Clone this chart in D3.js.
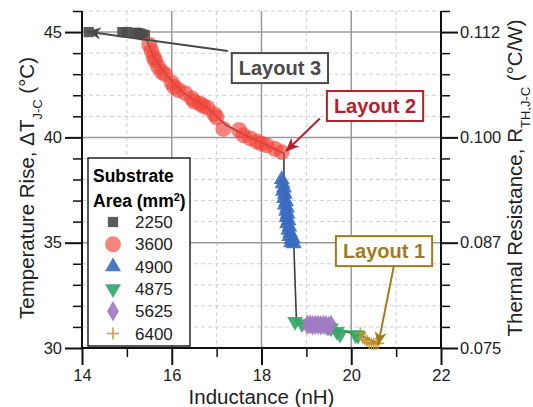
<!DOCTYPE html>
<html>
<head>
<meta charset="utf-8">
<script src="https://cdn.jsdelivr.net/npm/d3@7"></script>
<style>
  body { margin: 0; background: #fff; }
  svg { font-family: "Liberation Sans", Arial, sans-serif; }
</style>
</head>
<body>
<svg id="chart" width="533" height="407"></svg>
<script>
// substrate area 2250 mm2 (squares)
var sq2250X = [14.15, 14.9, 15.0, 15.2, 15.25, 15.3, 15.35, 15.4];
var sq2250Y = [45.0, 45.0, 45.0, 44.97, 44.95, 44.92, 44.88, 44.85];

// 3600 mm2 (circles)
var ci3600X = [15.5, 15.55, 15.6, 15.63, 15.7, 15.78, 15.85, 16.0, 16.05, 16.15, 16.3, 16.45, 16.5, 16.63,
  16.7, 16.8, 16.95, 17.0, 17.15, 17.5, 17.6, 17.75, 17.9, 18.0, 18.12, 18.3, 18.45];
var ci3600Y = [44.4, 44.1, 43.8, 43.65, 43.35, 43.1, 43.0, 42.6, 42.4, 42.25, 42.1, 41.85, 41.7, 41.6,
  41.5, 41.4, 41.1, 40.95, 40.4, 40.35, 40.1, 39.95, 39.8, 39.7, 39.62, 39.45, 39.3];

// 4900 mm2 (up triangles)
var tr4900X = [18.45, 18.47, 18.5, 18.48, 18.52, 18.5, 18.55, 18.52, 18.57, 18.55, 18.58, 18.56, 18.6,
  18.57, 18.62, 18.6, 18.64, 18.62, 18.67, 18.66, 18.72, 18.7];
var tr4900Y = [38.0, 37.8, 37.6, 37.45, 37.3, 37.1, 36.95, 36.8, 36.65, 36.5, 36.35, 36.2, 36.05,
  35.9, 35.75, 35.6, 35.45, 35.3, 35.15, 35.0, 34.95, 35.2];

// 4875 mm2 (down triangles)
var td4875X = [18.75, 18.9, 19.48, 19.55, 19.68, 19.75, 20.1, 20.15];
var td4875Y = [31.25, 31.15, 31.0, 30.95, 30.78, 30.65, 30.62, 30.6];

// 5625 mm2 (diamonds)
var di5625X = [19.02, 19.08, 19.14, 19.2, 19.26, 19.32, 19.38, 19.44, 19.5, 19.55];
var di5625Y = [31.1, 31.12, 31.08, 31.1, 31.1, 31.08, 31.1, 31.08, 31.05, 31.1];

// 6400 mm2 (plus)
var pl6400X = [20.2, 20.25, 20.3, 20.35, 20.4, 20.45, 20.5, 20.55, 20.6];
var pl6400Y = [30.7, 30.5, 30.4, 30.35, 30.25, 30.2, 30.2, 30.2, 30.22];

// trend line through the data
var traceX = [15.4, 15.6, 15.9, 16.3, 16.8, 17.2, 17.6, 18.1, 18.5, 18.5, 18.72, 18.78, 19.5, 20.2, 20.6];
var traceY = [44.85, 43.8, 42.9, 42.05, 41.4, 40.6, 40.15, 39.65, 39.25, 38.0, 34.9, 31.2, 31.0, 30.6, 30.2];

var xTicks = [14, 16, 18, 20, 22];
var xMinor = [15, 17, 19, 21];
var yTicks = [30, 35, 40, 45];
var yMinor = [31, 32, 33, 34, 36, 37, 38, 39, 41, 42, 43, 44, 46];
var rTickLabels = ["0.075", "0.087", "0.100", "0.112"];

var legendNames = ["2250", "3600", "4900", "4875", "5625", "6400"];
var colors = ["#4d4d4d", "#ef4237", "#3b6cbf", "#34a868", "#9f7bc1", "#c3922c"];

// annotation boxes: label, text centre (data units), arrow start (data units), arrow tip
var layoutNames = ["Layout 3", "Layout 2", "Layout 1"];
var layoutColors = ["#4a4a4a", "#b5202e", "#a37a1c"];
var layoutTextX = [18.41, 20.53, 20.73];
var layoutTextY = [43.29, 41.49, 34.6];
var layoutFromX = [17.25, 19.3, 20.95];
var layoutFromY = [44.1, 40.9, 33.9];
var layoutTipX = [14.13, 18.55, 20.6];
var layoutTipY = [45.02, 39.35, 30.15];

var svg = d3.select("#chart");
var mLeft = 82, mRight = 441, mTop = 11, mBottom = 348;

var x = d3.scaleLinear().domain([14, 22]).range([mLeft, mRight]);
var y = d3.scaleLinear().domain([30, 46]).range([mBottom, mTop]);
var r = d3.scaleLinear().domain([30 / 400, 46 / 400]).range([mBottom, mTop]);

//grid
var grid = svg.append("g");
grid.selectAll(".gx").data(xMinor).enter().append("line")
  .attr("x1", function(d) { return x(d); }).attr("x2", function(d) { return x(d); })
  .attr("y1", mTop).attr("y2", mBottom)
  .style("stroke", "#cfcfcf").style("stroke-dasharray", "4,3");
grid.selectAll(".gy").data(yMinor).enter().append("line")
  .attr("y1", function(d) { return y(d); }).attr("y2", function(d) { return y(d); })
  .attr("x1", mLeft).attr("x2", mRight)
  .style("stroke", "#cfcfcf").style("stroke-dasharray", "4,3");
grid.selectAll(".gX").data([16, 18, 20]).enter().append("line")
  .attr("x1", function(d) { return x(d); }).attr("x2", function(d) { return x(d); })
  .attr("y1", mTop).attr("y2", mBottom)
  .style("stroke", "#9a9a9a").style("stroke-width", 1.5);
grid.selectAll(".gY").data([35, 40, 45]).enter().append("line")
  .attr("y1", function(d) { return y(d); }).attr("y2", function(d) { return y(d); })
  .attr("x1", mLeft).attr("x2", mRight)
  .style("stroke", "#9a9a9a").style("stroke-width", 1.5);

//axes
function styleAxis(g, w) {
  g.select(".domain").remove();
  g.selectAll("line").style("stroke", "#111").style("stroke-width", w);
  g.selectAll("text").style("font-size", "16.5px").style("fill", "#222");
}

svg.append("g").attr("transform", "translate(0," + mBottom + ")")
  .call(d3.axisBottom(x).tickValues(xMinor).tickSize(9).tickFormat(""))
  .call(styleAxis, 1.5);
svg.append("g").attr("transform", "translate(0," + mBottom + ")")
  .call(d3.axisBottom(x).tickValues(xTicks).tickSize(17).tickPadding(4))
  .call(styleAxis, 2);

svg.append("g").attr("transform", "translate(" + mLeft + ",0)")
  .call(d3.axisLeft(y).tickValues(yMinor).tickSize(9).tickFormat(""))
  .call(styleAxis, 1.5);
svg.append("g").attr("transform", "translate(" + mLeft + ",0)")
  .call(d3.axisLeft(y).tickValues(yTicks).tickSize(17).tickPadding(3))
  .call(styleAxis, 2);

svg.append("g").attr("transform", "translate(" + mRight + ",0)")
  .call(d3.axisRight(y).tickValues(yMinor).tickSize(9).tickFormat(""))
  .call(styleAxis, 1.5);
svg.append("g").attr("transform", "translate(" + mRight + ",0)")
  .call(d3.axisRight(r).tickValues(yTicks.map(function(d) { return d / 400; })).tickSize(17).tickPadding(2)
    .tickFormat(function(d, i) { return rTickLabels[i]; }))
  .call(styleAxis, 2);

//axis lines
svg.append("line").attr("x1", mLeft - 1).attr("x2", mRight + 1).attr("y1", mBottom).attr("y2", mBottom)
  .style("stroke", "#111").style("stroke-width", 2);
svg.append("line").attr("x1", mLeft).attr("x2", mLeft).attr("y1", mTop).attr("y2", mBottom)
  .style("stroke", "#111").style("stroke-width", 2);
svg.append("line").attr("x1", mRight).attr("x2", mRight).attr("y1", mTop).attr("y2", mBottom)
  .style("stroke", "#111").style("stroke-width", 2);

//axis titles
svg.append("text").attr("x", (mLeft + mRight) / 2).attr("y", 404)
  .attr("text-anchor", "middle").style("font-size", "20.5px").style("fill", "#222")
  .text("Inductance (nH)");

var yl = svg.append("text").attr("transform", "translate(34,188) rotate(-90)")
  .attr("text-anchor", "middle").style("font-size", "20.5px").style("fill", "#222");
yl.append("tspan").text("Temperature Rise, \u0394T");
yl.append("tspan").attr("baseline-shift", "sub").style("font-size", "13px").text("J-C");
yl.append("tspan").text(" (\u00b0C)");

var rl = svg.append("text").attr("transform", "translate(522,178) rotate(-90)")
  .attr("text-anchor", "middle").style("font-size", "20.5px").style("fill", "#222");
rl.append("tspan").text("Thermal Resistance, R");
rl.append("tspan").attr("baseline-shift", "sub").style("font-size", "13px").text("TH,J-C");
rl.append("tspan").text(" (\u00b0C/W)");

//trend line
var plot = svg.append("g");
plot.append("path")
  .datum(d3.zip(traceX, traceY))
  .attr("d", d3.line().x(function(d) { return x(d[0]); }).y(function(d) { return y(d[1]); }))
  .style("fill", "none").style("stroke", "#3c3c3c").style("stroke-width", 1.6);

//markers
var plusPath = "M-6,0H6M0,-6V6";
var shapes = [
  d3.symbol().type(d3.symbolSquare).size(105)(),
  d3.symbol().type(d3.symbolCircle).size(200)(),
  d3.symbol().type(d3.symbolTriangle).size(110)(),
  d3.symbol().type(d3.symbolTriangle).size(110)(),
  d3.symbol().type(d3.symbolDiamond).size(120)(),
  plusPath
];
var series = [
  [sq2250X, sq2250Y], [ci3600X, ci3600Y], [tr4900X, tr4900Y],
  [td4875X, td4875Y], [di5625X, di5625Y], [pl6400X, pl6400Y]
];

function drawMarker(sel, i) {
  sel.append("path").attr("d", shapes[i])
    .style("fill", i == 5 ? "none" : colors[i])
    .style("stroke", i == 5 ? colors[i] : "none")
    .style("stroke-width", 1.5)
    .style("opacity", i == 1 ? 0.65 : 0.92);
}

series.forEach(function(s, i) {
  var pts = d3.zip(s[0], s[1]);
  plot.selectAll(".m" + i).data(pts).enter().append("g")
    .attr("class", "m" + i)
    .attr("transform", function(d) {
      return "translate(" + x(d[0]) + "," + y(d[1]) + ")" + (i == 3 ? " rotate(180)" : "");
    })
    .each(function() { drawMarker(d3.select(this), i); });
});

//annotations
svg.append("defs").selectAll("marker").data(layoutColors).enter().append("marker")
  .attr("id", function(d, i) { return "arr" + i; })
  .attr("viewBox", "0 -6 14 12").attr("refX", 13).attr("refY", 0)
  .attr("markerWidth", 14).attr("markerHeight", 12).attr("markerUnits", "userSpaceOnUse")
  .attr("orient", "auto")
  .append("path").attr("d", "M0,-6L14,0L0,6L4,0Z").style("fill", function(d) { return d; });

layoutNames.forEach(function(name, i) {
  var g = svg.append("g");
  g.append("line")
    .attr("x1", x(layoutFromX[i])).attr("y1", y(layoutFromY[i]))
    .attr("x2", x(layoutTipX[i])).attr("y2", y(layoutTipY[i]))
    .style("stroke", layoutColors[i]).style("stroke-width", 2)
    .attr("marker-end", "url(#arr" + i + ")");
  var cx = x(layoutTextX[i]), cy = y(layoutTextY[i]);
  var t = g.append("text").attr("x", cx).attr("y", cy + 7)
    .attr("text-anchor", "middle").style("font-size", "20px").style("font-weight", "bold")
    .style("fill", layoutColors[i]).text(name);
  var w = t.node().getComputedTextLength() + 14;
  g.insert("rect", "text").attr("x", cx - w / 2).attr("y", cy - 15).attr("width", w).attr("height", 30)
    .style("fill", "#fff").style("stroke", layoutColors[i]).style("stroke-width", 2);
});

//legend
var lg = svg.append("g");
lg.append("rect").attr("x", 88).attr("y", 158).attr("width", 102).attr("height", 188)
  .style("fill", "#fff").style("stroke", "#222").style("stroke-width", 1.5);
lg.append("text").attr("x", 93).attr("y", 182).style("font-size", "17.5px").style("font-weight", "bold")
  .text("Substrate");
var at = lg.append("text").attr("x", 93).attr("y", 207).style("font-size", "17.5px").style("font-weight", "bold");
at.append("tspan").text("Area (mm");
at.append("tspan").attr("baseline-shift", "super").style("font-size", "11px").text("2");
at.append("tspan").text(")");

legendNames.forEach(function(name, i) {
  var yy = 222 + i * 22.3;
  var g = lg.append("g").attr("transform", "translate(113," + yy + ")" + (i == 3 ? " rotate(180)" : ""));
  drawMarker(g, i);
  lg.append("text").attr("x", 135).attr("y", yy + 6).style("font-size", "17px").style("fill", "#222").text(name);
});
</script>
</body>
</html>
